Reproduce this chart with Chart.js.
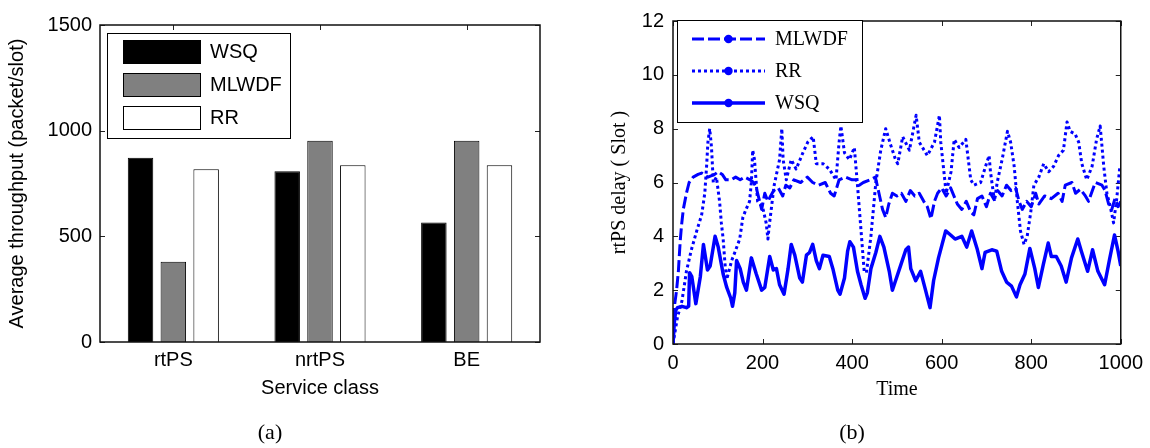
<!DOCTYPE html>
<html>
<head>
<meta charset="utf-8">
<script src="https://cdn.jsdelivr.net/npm/chart.js@4.4.0/dist/chart.umd.min.js"></script>
<style>
  html, body { margin: 0; padding: 0; background: #fff; }
  #wrap { position: relative; width: 1150px; height: 448px; overflow: hidden; background: #fff; }
  canvas { position: absolute; top: 0; }
  #chartA { left: 0; }
  #chartB { left: 575px; }
  .cap { position: absolute; top: 432px; transform: translate(-50%, -50%);
         font-family: "Liberation Serif", "Times New Roman", serif; font-size: 22px; color: #000; }
</style>
</head>
<body>
<div id="wrap">
  <canvas id="chartA" width="575" height="448"></canvas>
  <canvas id="chartB" width="575" height="448"></canvas>
  <div class="cap" style="left:270px">(a)</div>
  <div class="cap" style="left:852px">(b)</div>
</div>
<script>
// ---- (a) average throughput per service class ----
const serviceClasses = ['rtPS', 'nrtPS', 'BE'];
const throughputWSQ   = [872, 808, 565];
const throughputMLWDF = [380, 952, 952];
const throughputRR    = [817, 836, 836];
const throughputTicks = [0, 500, 1000, 1500];

// ---- (b) rtPS delay over time (time, delay) ----
const mlwdfTime  = [0,4,8,12,16,19,23,30,36,45,56,64,78,93,101,110,118,130,140,150,160,172,180,186,192,198,205,212,218,225,235,245,252,261,270,285,300,312,325,340,352,360,371,385,400,409,416,425,440,452,460,468,475,482,490,500,510,520,530,540,550,560,568,576,584,591,600,610,620,635,645,655,665,672,680,690,700,709,716,725,735,745,755,765,773,780,790,800,810,817,830,845,860,869,876,891,899,910,921,928,943,958,965,973,980,987,994,1000];
const mlwdfDelay = [0.3,1.5,2.0,2.7,3.8,4.4,5.0,5.6,6.0,6.2,6.3,6.35,6.2,6.3,6.4,6.3,6.1,6.1,6.2,6.1,6.2,6.1,6.0,5.8,5.4,5.0,5.6,5.3,5.5,5.7,5.8,5.5,5.9,5.8,6.1,6.0,6.2,6.0,5.9,6.0,5.6,5.5,6.1,6.2,6.1,6.1,5.9,6.0,6.1,6.2,5.6,5.0,4.7,5.2,5.6,5.5,5.6,5.3,5.7,5.5,5.6,5.3,5.1,4.65,5.3,5.6,5.8,5.5,5.8,5.2,5.0,5.3,4.9,4.8,5.4,5.5,5.1,5.6,5.4,5.7,5.5,5.9,5.7,5.8,5.3,5.0,5.3,5.1,5.6,5.2,5.5,5.4,5.6,5.3,5.9,6.0,5.6,5.75,5.5,5.3,6.0,5.9,5.7,5.2,5.0,5.4,5.1,5.3];

const rrTime  = [0,10,20,30,41,53,64,71,75,78,82,86,90,97,104,108,112,116,120,131,138,149,156,163,171,175,178,182,189,200,208,212,215,226,238,243,246,253,264,275,290,301,313,320,335,349,364,371,375,383,394,405,412,420,427,432,442,453,464,475,486,497,502,513,528,543,550,568,584,595,598,606,610,621,628,639,654,665,672,687,698,706,709,718,724,735,747,754,762,769,776,784,791,799,806,817,828,839,850,861,872,880,887,898,906,913,924,936,946,954,962,969,976,984,991,998];
const rrDelay = [0,1.0,1.6,2.7,3.5,4.2,4.8,5.6,6.6,7.5,8.0,7.3,6.0,6.2,5.3,4.5,3.9,3.0,2.4,3.1,3.4,3.9,4.7,5.0,5.3,6.0,7.2,6.85,5.3,5.1,4.5,3.9,4.4,5.9,6.85,8.0,6.85,6.1,6.85,6.5,7.1,7.5,7.7,6.7,6.7,6.5,6.1,7.5,8.1,7.1,6.85,7.3,5.9,4.2,2.7,2.65,4.0,6.0,7.2,8.0,7.4,6.85,6.7,7.7,7.2,8.5,7.5,7.0,7.5,8.5,7.5,6.25,5.6,6.4,7.6,7.3,7.6,6.1,5.9,6.0,6.6,7.0,6.4,5.3,6.0,6.85,7.9,7.5,6.6,5.3,4.2,3.7,4.0,4.9,5.9,6.2,6.7,6.4,6.6,7.0,7.2,8.25,7.9,7.8,7.5,6.7,6.1,6.6,7.6,8.1,6.6,5.6,5.15,4.5,5.4,6.6];

const wsqTime  = [0,3,6,10,20,30,35,37,42,51,61,68,77,83,94,101,112,120,129,133,138,142,150,157,164,175,186,198,205,216,224,231,238,248,257,264,272,283,289,298,305,312,320,327,335,349,357,368,373,383,390,395,403,412,420,429,434,442,453,462,471,483,490,497,509,520,526,531,542,553,564,574,582,593,601,609,620,630,645,656,667,679,690,697,712,723,734,745,756,767,775,786,797,808,816,827,838,845,856,867,878,890,904,912,926,937,949,964,975,986,994,1000];
const wsqDelay = [0,0.8,1.25,1.35,1.4,1.35,1.4,2.65,2.5,1.5,2.5,3.7,2.75,2.9,4.0,3.6,2.6,2.1,1.7,1.4,1.9,3.1,2.8,2.3,2.0,3.2,2.6,2.0,2.1,3.25,2.75,2.8,2.2,1.85,2.8,3.7,3.3,2.45,2.3,3.3,3.4,3.7,3.1,2.8,3.3,3.25,2.8,2.0,1.85,2.45,3.45,3.8,3.6,2.7,2.2,1.7,1.9,2.8,3.4,4.0,3.6,2.7,2.0,2.35,2.95,3.5,3.6,2.8,2.35,2.7,2.0,1.35,2.35,3.2,3.7,4.2,4.05,3.9,4.0,3.6,4.2,3.55,2.8,3.4,3.5,3.45,2.7,2.3,2.15,1.75,2.2,2.6,3.55,2.8,2.1,2.95,3.75,3.25,3.25,2.9,2.3,3.2,3.9,3.45,2.7,3.5,2.7,2.2,3.15,4.05,3.45,2.9];

const timeTicks  = [0, 200, 400, 600, 800, 1000];
const delayTicks = [0, 2, 4, 6, 8, 10, 12];

const SANS  = '"Liberation Sans", Arial, sans-serif';
const SERIF = '"Liberation Serif", "Times New Roman", serif';
const BLUE  = '#0000ff';

const toPoints = (ts, vs) => ts.map((t, i) => ({ x: t, y: vs[i] }));
const plainNumber = v => String(v);

// Box round the plot area with short inward tick marks on all four sides
const axisFrame = {
  id: 'axisFrame',
  beforeDatasetsDraw(chart, args, opts) {
    const { ctx, chartArea: a, scales } = chart;
    const len = opts.tickLen || 5;
    ctx.save();
    ctx.strokeStyle = '#222';
    ctx.lineWidth = 1;
    ctx.beginPath();
    scales.x.ticks.forEach((t, i) => {
      const px = Math.round(scales.x.getPixelForTick(i)) + 0.5;
      ctx.moveTo(px, a.bottom); ctx.lineTo(px, a.bottom - len);
      ctx.moveTo(px, a.top);    ctx.lineTo(px, a.top + len);
    });
    scales.y.ticks.forEach((t, i) => {
      const py = Math.round(scales.y.getPixelForTick(i)) + 0.5;
      ctx.moveTo(a.left, py);  ctx.lineTo(a.left + len, py);
      ctx.moveTo(a.right, py); ctx.lineTo(a.right - len, py);
    });
    ctx.stroke();
    ctx.restore();
  },
  afterDatasetsDraw(chart) {
    const { ctx, chartArea: a } = chart;
    ctx.save();
    ctx.strokeStyle = '#111';
    ctx.lineWidth = 1.5;
    ctx.strokeRect(a.left, a.top, a.right - a.left, a.bottom - a.top);
    ctx.restore();
  }
};

// Boxed legend with filled swatches (bar chart)
const swatchLegend = {
  id: 'swatchLegend',
  afterDraw(chart) {
    const ctx = chart.ctx;
    const bx = 107, by = 33, bw = 183, bh = 105;
    ctx.save();
    ctx.fillStyle = '#fff';
    ctx.fillRect(bx, by, bw, bh);
    ctx.strokeStyle = '#000';
    ctx.lineWidth = 1;
    ctx.strokeRect(bx + 0.5, by + 0.5, bw, bh);
    ctx.font = '20px ' + SANS;
    ctx.textBaseline = 'middle';
    chart.data.datasets.forEach((ds, i) => {
      const y = by + 7 + i * 33;
      ctx.fillStyle = ds.backgroundColor;
      ctx.fillRect(123, y, 77, 23);
      ctx.strokeStyle = '#000';
      ctx.strokeRect(123.5, y + 0.5, 77, 23);
      ctx.fillStyle = '#000';
      ctx.fillText(ds.label, 210, y + 12);
    });
    ctx.restore();
  }
};

// Boxed legend with line samples and a round marker (line chart)
const lineLegend = {
  id: 'lineLegend',
  afterDraw(chart) {
    const ctx = chart.ctx;
    const bx = 102, by = 20, bw = 185, bh = 102;
    ctx.save();
    ctx.fillStyle = '#fff';
    ctx.fillRect(bx, by, bw, bh);
    ctx.strokeStyle = '#000';
    ctx.lineWidth = 1;
    ctx.strokeRect(bx + 0.5, by + 0.5, bw, bh);
    ctx.font = '20px ' + SERIF;
    ctx.textBaseline = 'middle';
    chart.data.datasets.forEach((ds, i) => {
      const y = by + 19 + i * 32;
      ctx.strokeStyle = ds.borderColor;
      ctx.lineWidth = ds.borderWidth;
      ctx.setLineDash(ds.borderDash || []);
      ctx.beginPath();
      ctx.moveTo(117, y); ctx.lineTo(190, y);
      ctx.stroke();
      ctx.setLineDash([]);
      ctx.fillStyle = ds.borderColor;
      ctx.beginPath();
      ctx.arc(153.5, y, 4.2, 0, Math.PI * 2);
      ctx.fill();
      ctx.fillStyle = '#000';
      ctx.fillText(ds.label, 200, y + 1);
    });
    ctx.restore();
  }
};

new Chart(document.getElementById('chartA'), {
  type: 'bar',
  data: {
    labels: serviceClasses,
    datasets: [
      { label: 'WSQ',   data: throughputWSQ,   backgroundColor: '#000000' },
      { label: 'MLWDF', data: throughputMLWDF, backgroundColor: '#808080' },
      { label: 'RR',    data: throughputRR,    backgroundColor: '#ffffff' }
    ].map(d => Object.assign(d, { borderColor: '#000', borderWidth: 1, categoryPercentage: 0.671, barPercentage: 0.777 }))
  },
  options: {
    responsive: false,
    animation: false,
    devicePixelRatio: 1,
    layout: { padding: { left: 0, right: 35, top: 25, bottom: 46 } },
    plugins: { legend: { display: false }, tooltip: { enabled: false }, axisFrame: { tickLen: 5 } },
    scales: {
      x: {
        grid: { display: false, drawTicks: false },
        border: { display: false },
        ticks: { color: '#000', font: { family: SANS, size: 20 }, padding: 6 },
        title: { display: true, text: 'Service class', color: '#000', font: { family: SANS, size: 20 }, padding: { top: 0, bottom: 2 } },
        afterFit(s) { s.height = 60; }
      },
      y: {
        min: 0, max: 1500,
        afterBuildTicks(s) { s.ticks = throughputTicks.map(v => ({ value: v })); },
        grid: { display: false, drawTicks: false },
        border: { display: false },
        ticks: { color: '#000', font: { family: SANS, size: 20 }, padding: 8, callback: plainNumber },
        title: { display: true, text: 'Average throughput (packet/slot)', color: '#000', font: { family: SANS, size: 20 }, padding: { top: 5, bottom: 0 } },
        afterFit(s) { s.width = 100; }
      }
    }
  },
  plugins: [axisFrame, swatchLegend]
});

new Chart(document.getElementById('chartB'), {
  type: 'line',
  data: {
    datasets: [
      { label: 'MLWDF', data: toPoints(mlwdfTime, mlwdfDelay), borderDash: [12, 4], borderWidth: 3 },
      { label: 'RR',    data: toPoints(rrTime, rrDelay),       borderDash: [3, 3],  borderWidth: 3 },
      { label: 'WSQ',   data: toPoints(wsqTime, wsqDelay),     borderWidth: 3.5 }
    ].map(d => Object.assign(d, { borderColor: BLUE, backgroundColor: BLUE, pointRadius: 0, tension: 0, fill: false, borderCapStyle: 'butt', borderJoinStyle: 'round' }))
  },
  options: {
    responsive: false,
    animation: false,
    devicePixelRatio: 1,
    layout: { padding: { left: 33, right: 27, top: 16, bottom: 44 } },
    plugins: { legend: { display: false }, tooltip: { enabled: false }, axisFrame: { tickLen: 5 } },
    scales: {
      x: {
        type: 'linear', min: 0, max: 1000,
        afterBuildTicks(s) { s.ticks = timeTicks.map(v => ({ value: v })); },
        grid: { display: false, drawTicks: false },
        border: { display: false },
        ticks: { color: '#000', font: { family: SANS, size: 20 }, padding: 7, callback: plainNumber },
        title: { display: true, text: 'Time', color: '#000', font: { family: SERIF, size: 20 }, padding: { top: 0, bottom: 2 } },
        afterFit(s) { s.height = 60; }
      },
      y: {
        min: 0, max: 12,
        afterBuildTicks(s) { s.ticks = delayTicks.map(v => ({ value: v })); },
        grid: { display: false, drawTicks: false },
        border: { display: false },
        ticks: { color: '#000', font: { family: SANS, size: 20 }, padding: 9, callback: plainNumber },
        title: { display: true, text: 'rtPS delay ( Slot )', color: '#000', font: { family: SERIF, size: 20 }, padding: { top: 0, bottom: 0 } },
        afterFit(s) { s.width = 65; }
      }
    }
  },
  plugins: [axisFrame, lineLegend]
});
</script>
</body>
</html>
